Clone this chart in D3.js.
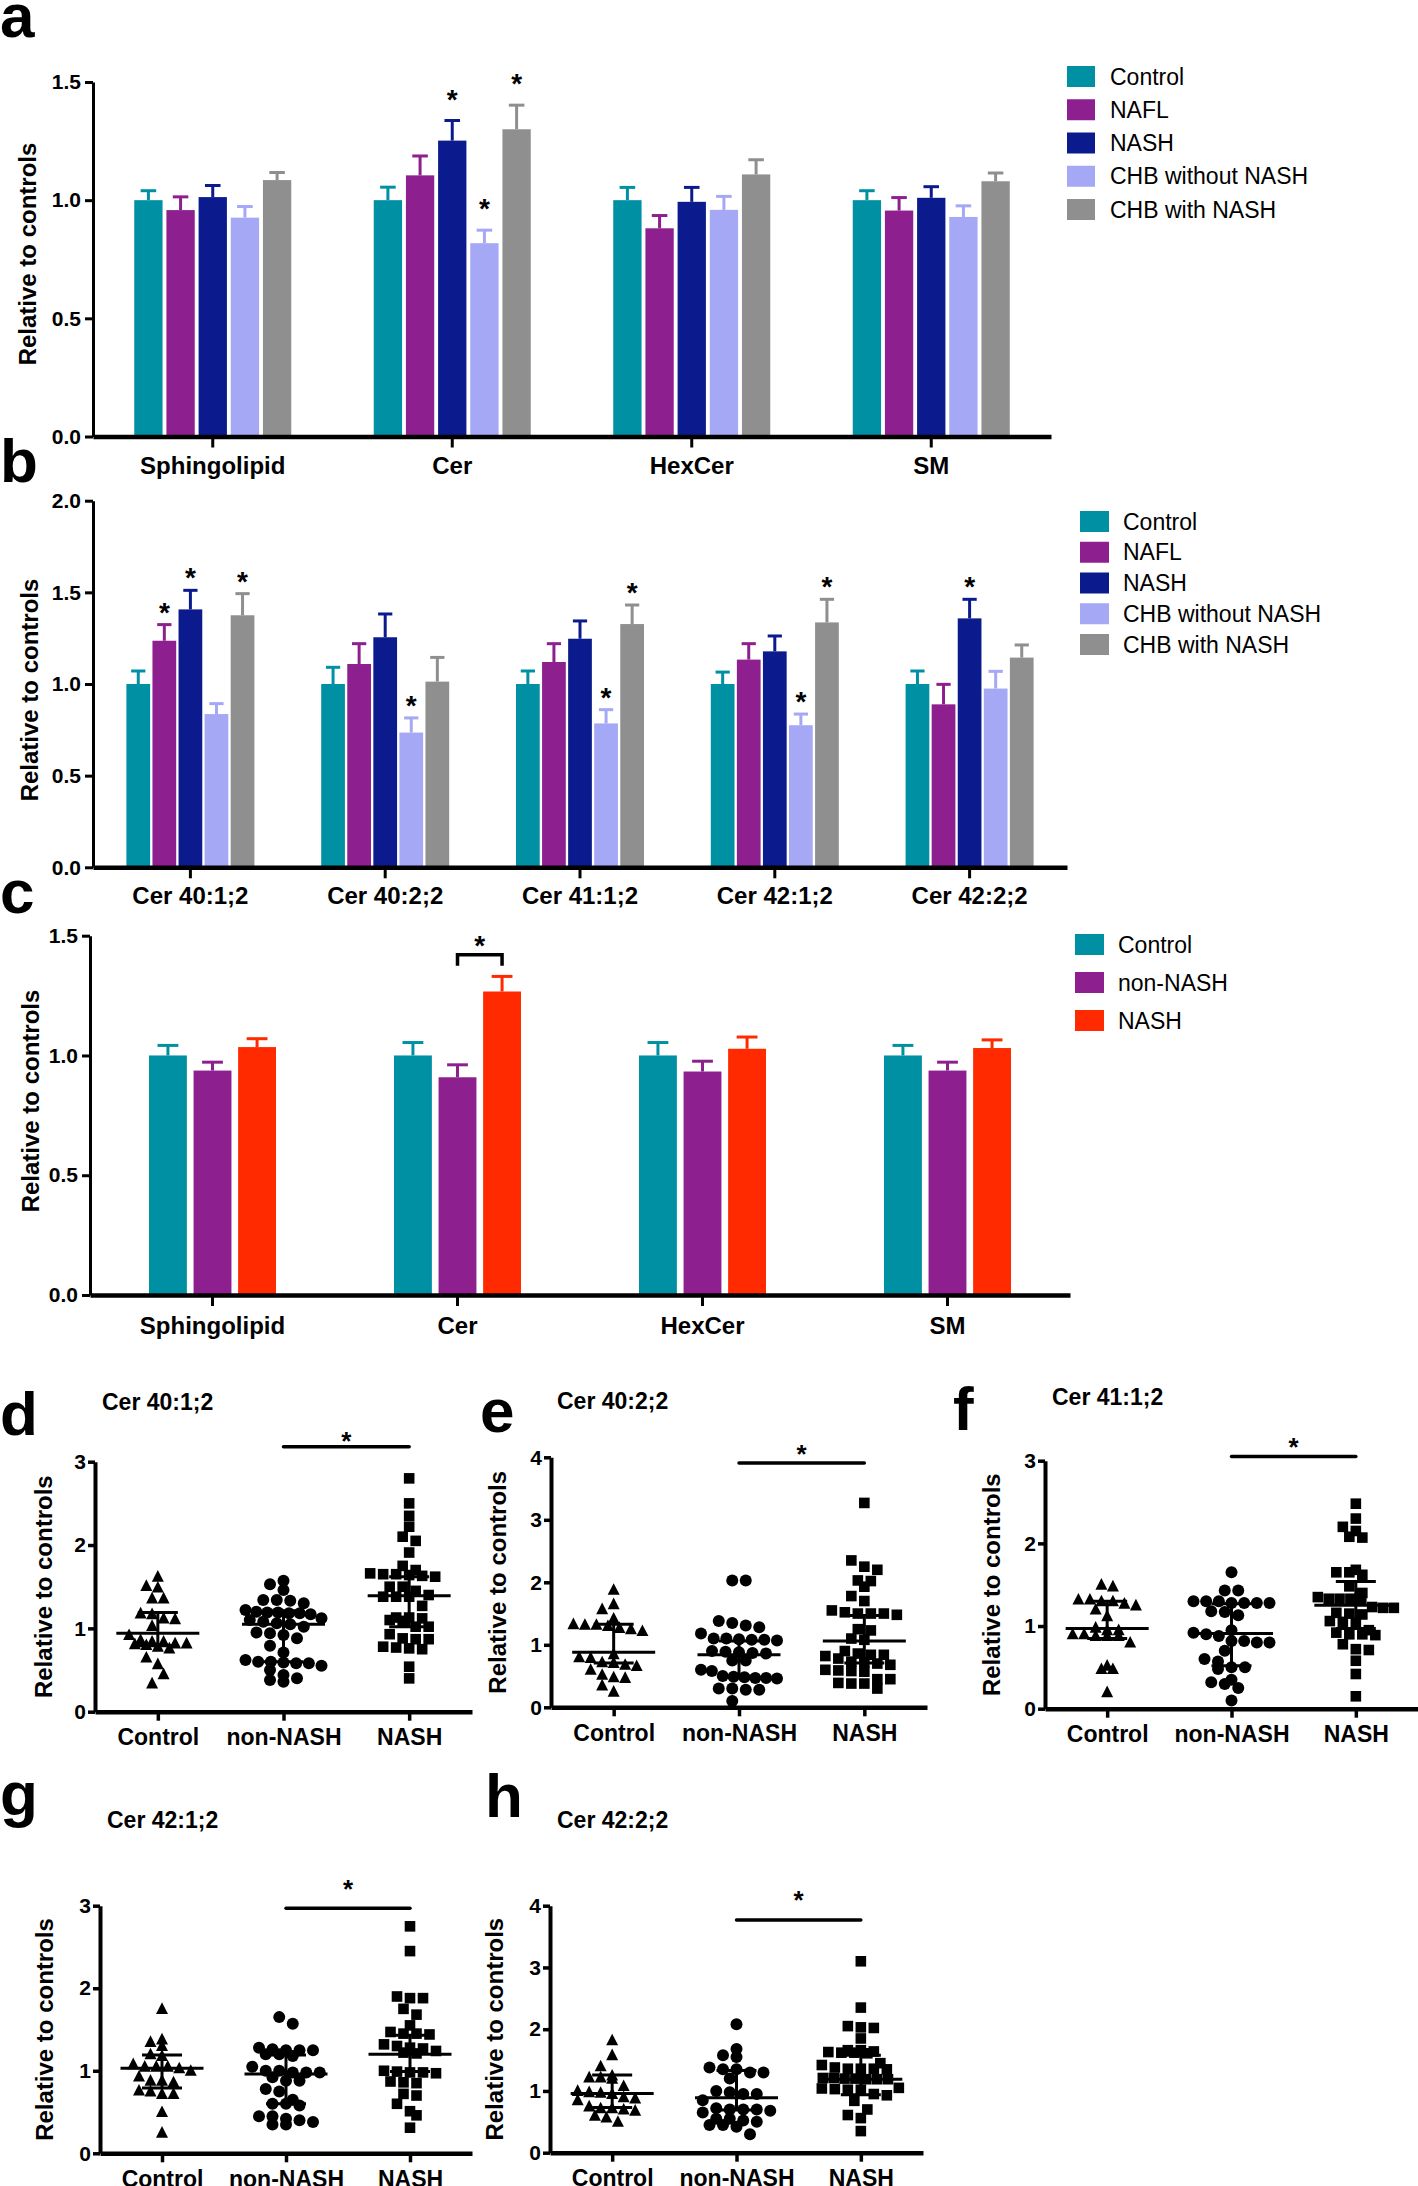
<!DOCTYPE html>
<html><head><meta charset="utf-8">
<script src="https://cdn.jsdelivr.net/npm/d3@7"></script>
<style>
body{margin:0;background:#fff}
svg{display:block}
text{font-family:"Liberation Sans",Arial,Helvetica,sans-serif;fill:#000}
</style>
</head><body>
<svg id="chart" width="1418" height="2186"></svg>
<script>
// ---------------- DATA ----------------
const seriesAB = ["Control","NAFL","NASH","CHB without NASH","CHB with NASH"];
const seriesC = ["Control","non-NASH","NASH"];
const colorsAB = ["#0090A3","#8E1F8E","#0B1A8D","#A4A8F5","#8F8F8F"];
const colorsC = ["#0090A3","#8E1F8E","#FF2A00"];

const catsA = ["Sphingolipid","Cer","HexCer","SM"];
const aControl = [1.000,1.000,1.000,1.000];
const aControlSE = [0.040,0.055,0.054,0.040];
const aNAFL = [0.958,1.105,0.881,0.956];
const aNAFLSE = [0.056,0.082,0.054,0.055];
const aNASH = [1.013,1.252,0.993,1.010];
const aNASHSE = [0.049,0.085,0.061,0.047];
const aCHBwo = [0.926,0.818,0.959,0.929];
const aCHBwoSE = [0.047,0.055,0.057,0.047];
const aCHBw = [1.085,1.300,1.109,1.080];
const aCHBwSE = [0.032,0.102,0.062,0.035];
const aStars = [[1,2],[1,3],[1,4]];
const aTicks = [0,0.5,1.0,1.5];

const catsB = ["Cer 40:1;2","Cer 40:2;2","Cer 41:1;2","Cer 42:1;2","Cer 42:2;2"];
const bControl = [1.000,1.000,1.000,1.000,1.000];
const bControlSE = [0.071,0.091,0.071,0.065,0.071];
const bNAFL = [1.236,1.109,1.120,1.133,0.889];
const bNAFLSE = [0.088,0.111,0.100,0.087,0.109];
const bNASH = [1.407,1.255,1.247,1.178,1.358];
const bNASHSE = [0.104,0.127,0.097,0.084,0.104];
const bCHBwo = [0.836,0.735,0.785,0.775,0.975];
const bCHBwoSE = [0.057,0.080,0.075,0.061,0.094];
const bCHBw = [1.375,1.013,1.327,1.336,1.144];
const bCHBwSE = [0.118,0.132,0.104,0.126,0.069];
const bStars = [[0,1],[0,2],[0,4],[1,3],[2,3],[2,4],[3,3],[3,4],[4,2]];
const bTicks = [0,0.5,1.0,1.5,2.0];

const catsC = ["Sphingolipid","Cer","HexCer","SM"];
const cControl = [1.000,1.000,1.000,1.000];
const cControlSE = [0.042,0.054,0.054,0.042];
const cNonNASH = [0.937,0.909,0.933,0.937];
const cNonNASHSE = [0.035,0.052,0.043,0.035];
const cNASH = [1.035,1.267,1.028,1.031];
const cNASHSE = [0.035,0.063,0.049,0.034];
const cBracket = {cat:1, from:1, to:2, value:1.42};
const cTicks = [0,0.5,1.0,1.5];

const scatterGroups = ["Control","non-NASH","NASH"];

const dTitle = "Cer 40:1;2";
const dControl = [1.62,1.51,1.49,1.36,1.36,1.18,1.17,1.12,1.11,1.03,0.92,0.86,0.84,0.84,0.82,0.82,0.81,0.80,0.78,0.76,0.65,0.57,0.45,0.34];
const dNonNASH = [1.57,1.53,1.46,1.34,1.34,1.33,1.30,1.22,1.20,1.19,1.19,1.18,1.18,1.17,1.12,1.10,1.08,1.06,1.05,1.02,0.95,0.94,0.92,0.88,0.79,0.71,0.62,0.60,0.60,0.59,0.58,0.58,0.55,0.50,0.44,0.40,0.38,0.36];
const dNASH = [2.80,2.50,2.35,2.22,2.10,2.05,1.91,1.75,1.70,1.66,1.65,1.65,1.64,1.63,1.62,1.50,1.50,1.45,1.40,1.38,1.38,1.38,1.27,1.13,1.13,1.12,1.10,1.09,1.02,1.02,0.93,0.88,0.87,0.87,0.78,0.77,0.76,0.75,0.54,0.40];
const dSummary = [[0.94,0.79,1.19],[1.05,0.60,1.21],[1.39,1.02,1.62]];
const dSig = 3.18;

const eTitle = "Cer 40:2;2";
const eControl = [1.88,1.65,1.57,1.42,1.33,1.32,1.32,1.30,1.27,1.25,1.22,0.85,0.80,0.79,0.72,0.71,0.68,0.66,0.60,0.52,0.48,0.47,0.35,0.25];
const eNonNASH = [2.03,2.03,1.38,1.35,1.31,1.28,1.18,1.10,1.09,1.08,1.07,1.08,1.10,0.90,0.88,0.87,0.89,0.86,0.75,0.75,0.60,0.58,0.50,0.47,0.46,0.47,0.49,0.48,0.30,0.28,0.28,0.30,0.10];
const eNASH = [3.27,2.35,2.25,2.20,2.03,2.02,1.93,1.78,1.70,1.55,1.50,1.50,1.48,1.50,1.52,1.25,1.23,1.10,1.08,0.90,0.84,0.84,0.86,0.82,0.78,0.73,0.70,0.72,0.68,0.58,0.59,0.57,0.60,0.45,0.38,0.30,0.38,0.39,0.45];
const eSummary = [[0.88,0.71,1.33],[0.84,0.50,1.06],[1.06,0.71,1.47]];
const eSig = 3.91;

const fTitle = "Cer 41:1;2";
const fControl = [1.50,1.48,1.32,1.32,1.30,1.30,1.27,1.25,1.20,1.12,0.98,0.95,0.95,0.90,0.90,0.88,0.88,0.88,0.80,0.52,0.48,0.48,0.20];
const fNonNASH = [1.65,1.43,1.43,1.30,1.30,1.28,1.28,1.28,1.28,1.30,1.18,1.17,1.13,0.95,0.92,0.90,0.88,0.82,0.82,0.80,0.80,0.70,0.60,0.57,0.50,0.50,0.48,0.35,0.32,0.30,0.25,0.10];
const fNASH = [2.48,2.30,2.20,2.15,2.08,2.07,1.68,1.65,1.65,1.62,1.48,1.40,1.33,1.33,1.32,1.33,1.35,1.22,1.22,1.23,1.16,1.15,1.14,1.05,1.06,1.04,0.95,0.90,0.92,0.90,0.89,0.78,0.72,0.71,0.58,0.42,0.15];
const fSummary = [[0.97,0.85,1.30],[0.91,0.52,1.27],[1.25,0.97,1.54]];
const fSig = 3.05;

const gTitle = "Cer 42:1;2";
const gControl = [1.75,1.38,1.35,1.30,1.20,1.18,1.08,1.05,1.05,1.05,1.03,1.00,0.93,0.88,0.88,0.86,0.76,0.75,0.72,0.72,0.50,0.25];
const gNonNASH = [1.65,1.57,1.28,1.26,1.25,1.25,1.25,1.20,1.20,1.18,1.05,1.00,1.00,0.98,0.98,0.98,0.92,0.88,0.88,0.78,0.75,0.65,0.60,0.60,0.58,0.45,0.45,0.42,0.40,0.38,0.35,0.35];
const gNASH = [2.75,2.45,1.90,1.88,1.88,1.75,1.68,1.55,1.47,1.45,1.44,1.45,1.32,1.30,1.28,1.27,1.24,1.21,1.22,1.00,0.98,0.99,0.98,0.97,0.86,0.85,0.87,0.72,0.70,0.60,0.51,0.46,0.31];
const gSummary = [[1.03,0.79,1.19],[0.96,0.60,1.19],[1.20,0.99,1.43]];
const gSig = 2.97;

const hTitle = "Cer 42:2;2";
const hControl = [1.82,1.58,1.40,1.25,1.22,1.22,1.20,1.08,1.00,0.98,0.97,0.95,0.90,0.88,0.85,0.75,0.72,0.72,0.70,0.68,0.60,0.57,0.50];
const hNonNASH = [2.08,1.68,1.58,1.55,1.38,1.35,1.35,1.30,1.30,1.20,1.00,0.98,0.95,0.95,0.85,0.72,0.70,0.70,0.70,0.68,0.65,0.55,0.55,0.52,0.50,0.45,0.45,0.42,0.30];
const hNASH = [3.10,2.35,2.05,2.03,2.02,1.85,1.66,1.63,1.62,1.61,1.62,1.64,1.66,1.45,1.42,1.38,1.36,1.36,1.35,1.36,1.21,1.21,1.20,1.19,1.19,1.19,1.20,1.05,1.03,1.02,1.02,1.04,0.93,0.95,0.84,0.70,0.61,0.56,0.35];
const hSummary = [[0.96,0.73,1.26],[0.89,0.69,1.33],[1.19,0.94,1.58]];
const hSig = 3.77;

// ---------------- DRAWING ----------------
const svg = d3.select("#chart");
const FONT = '"Liberation Sans",Arial,Helvetica,sans-serif';

function panelLetter(t, x, y){
  svg.append("text").attr("x",x).attr("y",y).attr("font-size",62).attr("font-weight","bold").text(t);
}
function yLabel(x, cy){
  svg.append("text").attr("transform",`translate(${x},${cy}) rotate(-90)`)
    .attr("text-anchor","middle").attr("font-size",24).attr("font-weight","bold").text("Relative to controls");
}

function barPanel(cfg){
  const g = svg.append("g");
  const y = d3.scaleLinear().domain([0,cfg.yMax]).range([cfg.yBottom,cfg.yTop]);
  const x0 = d3.scaleBand().domain(cfg.cats).range([cfg.xLeft,cfg.xRight]).padding(0);
  const x1 = d3.scaleBand().domain(cfg.series).range([0,cfg.groupW]).paddingInner(cfg.padInner).paddingOuter(0);
  const off = (x0.bandwidth()-cfg.groupW)/2;
  const rows = [];
  cfg.cats.forEach((c,ci)=>cfg.series.forEach((s,si)=>{
    rows.push({c,ci,s,si,v:cfg.means[si][ci],e:cfg.ses[si][ci]});
  }));
  const bx = d=>x0(d.c)+off+x1(d.s);
  const bw = x1.bandwidth();
  const capW = bw*cfg.capFrac;
  g.selectAll(".eb").data(rows).join("line")
    .attr("x1",d=>bx(d)+bw/2).attr("x2",d=>bx(d)+bw/2)
    .attr("y1",d=>y(d.v)).attr("y2",d=>y(d.v+d.e))
    .attr("stroke",d=>cfg.colors[d.si]).attr("stroke-width",3);
  g.selectAll(".cap").data(rows).join("line")
    .attr("x1",d=>bx(d)+bw/2-capW/2).attr("x2",d=>bx(d)+bw/2+capW/2)
    .attr("y1",d=>y(d.v+d.e)).attr("y2",d=>y(d.v+d.e))
    .attr("stroke",d=>cfg.colors[d.si]).attr("stroke-width",3);
  g.selectAll(".bar").data(rows).join("rect")
    .attr("x",bx).attr("width",bw)
    .attr("y",d=>y(d.v)).attr("height",d=>y(0)-y(d.v))
    .attr("fill",d=>cfg.colors[d.si]);
  (cfg.stars||[]).forEach(([ci,si])=>{
    const d = rows.find(r=>r.ci===ci&&r.si===si);
    g.append("text").attr("x",bx(d)+bw/2).attr("y",y(d.v+d.e)-cfg.starOff)
      .attr("text-anchor","middle").attr("font-size",28).attr("font-weight","bold").text("*");
  });
  if(cfg.bracket){
    const b = cfg.bracket;
    const c = cfg.cats[b.cat];
    const xa = x0(c)+off+x1(cfg.series[b.from])+bw/2;
    const xb = x0(c)+off+x1(cfg.series[b.to])+bw/2;
    const yb = y(b.value);
    g.append("path").attr("d",`M${xa},${yb+11}V${yb}H${xb}V${yb+11}`)
      .attr("fill","none").attr("stroke","#000").attr("stroke-width",3.5);
    g.append("text").attr("x",(xa+xb)/2).attr("y",yb).attr("text-anchor","middle")
      .attr("font-size",28).attr("font-weight","bold").text("*");
  }
  const ya = g.append("g").attr("transform",`translate(${cfg.xLeft},0)`)
    .call(d3.axisLeft(y).tickValues(cfg.ticks).tickFormat(d3.format(".1f")).tickSize(8).tickPadding(4).tickSizeOuter(0));
  ya.select(".domain").attr("stroke-width",3);
  ya.selectAll(".tick line").attr("stroke-width",3);
  ya.selectAll(".tick text").attr("font-size",21).attr("font-weight","bold").attr("font-family",FONT).attr("fill","#000");
  const xa = g.append("g").attr("transform",`translate(0,${cfg.yBottom})`)
    .call(d3.axisBottom(x0).tickSize(11).tickPadding(cfg.xPad).tickSizeOuter(0));
  xa.select(".domain").attr("stroke-width",4.5);
  xa.selectAll(".tick line").attr("stroke-width",3);
  xa.selectAll(".tick text").attr("font-size",24).attr("font-weight","bold").attr("font-family",FONT).attr("fill","#000");
  const L = cfg.legend;
  cfg.series.forEach((s,i)=>{
    const yy = L.y0 + i*L.step;
    g.append("rect").attr("x",L.x).attr("y",yy).attr("width",L.sw).attr("height",L.sh).attr("fill",cfg.colors[i]);
    g.append("text").attr("x",L.tx).attr("y",yy+L.sh/2+8).attr("font-size",23).text(s);
  });
}

barPanel({cats:catsA, series:seriesAB, colors:colorsAB,
  means:[aControl,aNAFL,aNASH,aCHBwo,aCHBw], ses:[aControlSE,aNAFLSE,aNASHSE,aCHBwoSE,aCHBwSE],
  stars:aStars, ticks:aTicks, yMax:1.5, yBottom:436.5, yTop:82, xLeft:93, xRight:1051,
  groupW:157, padInner:0.12, capFrac:0.55, starOff:12, xPad:9,
  legend:{x:1067,y0:66,step:33.25,sw:28,sh:21,tx:1110}});

barPanel({cats:catsB, series:seriesAB, colors:colorsAB,
  means:[bControl,bNAFL,bNASH,bCHBwo,bCHBw], ses:[bControlSE,bNAFLSE,bNASHSE,bCHBwoSE,bCHBwSE],
  stars:bStars, ticks:bTicks, yMax:2.0, yBottom:867.3, yTop:500.7, xLeft:93, xRight:1067,
  groupW:128, padInner:0.09, capFrac:0.6, starOff:3, xPad:9,
  legend:{x:1080,y0:511,step:30.75,sw:29,sh:21,tx:1123}});

barPanel({cats:catsC, series:seriesC, colors:colorsC,
  means:[cControl,cNonNASH,cNASH], ses:[cControlSE,cNonNASHSE,cNASHSE],
  bracket:cBracket, ticks:cTicks, yMax:1.5, yBottom:1295, yTop:935.7, xLeft:90, xRight:1070,
  groupW:127, padInner:0.15, capFrac:0.55, starOff:3, xPad:11,
  legend:{x:1075,y0:934,step:38,sw:29,sh:21,tx:1118}});

panelLetter("a",0,37);
panelLetter("b",0,482);
panelLetter("c",0,913);
yLabel(36,254);
yLabel(38,690);
yLabel(38.5,1101);

// row-binned column-scatter layout with a maximum row width
function rowLayout(vals, yScale, rowH, sp, size, maxW){
  const pts = vals.map((v,i)=>({v,i,py:yScale(v),dx:0}));
  const bins = d3.groups(pts, p=>Math.floor(p.py/rowH)).sort((a,b)=>a[0]-b[0]);
  const done = [];
  bins.forEach(([,bp])=>{
    bp.sort((a,b)=>b.v-a.v);
    const n = bp.length;
    const step = n>1 ? Math.min(sp, maxW/(n-1)) : sp;
    let best=null, bestCost=Infinity;
    const shifts = (n-1)*step + step/2 <= maxW ? [0, step/2, -step/2] : [0];
    shifts.forEach(shift=>{
      const offs = bp.map((p,j)=>(j-(n-1)/2)*step + shift);
      let cost=0;
      bp.forEach((p,j)=>done.forEach(q=>{
        const dx=Math.abs(offs[j]-q.dx), dy=Math.abs(p.py-q.py);
        if(dx<size && dy<size) cost += (size-dx)*(size-dy);
      }));
      cost += Math.abs(shift)*0.5;
      if(cost<bestCost){bestCost=cost;best=offs;}
    });
    bp.forEach((p,j)=>{p.dx=best[j]; done.push(p);});
  });
  return pts;
}

const shapes = {
  tri:(s)=>`M0,${-s*0.55}L${s/2},${s*0.42}L${-s/2},${s*0.42}Z`,
  circ:(s)=>d3.symbol(d3.symbolCircle, Math.PI*s*s/4)(),
  sq:(s)=>`M${-s/2},${-s/2}h${s}v${s}h${-s}Z`
};

function scatterPanel(cfg){
  const g = svg.append("g");
  const y = d3.scaleLinear().domain([0,cfg.yMax]).range([cfg.yBottom,cfg.yTop]);
  const x = d3.scalePoint().domain(scatterGroups).range([cfg.xLeft,cfg.xRight]).padding(0.5);
  const kinds = [["tri",12,11.5],["circ",12,13.5],["sq",10.6,13]];
  cfg.groups.forEach((vals,gi)=>{
    const [kd,s,sp] = kinds[gi];
    const pts = rowLayout(vals,y,12,sp,s,76);
    g.selectAll(null).data(pts).join("path")
      .attr("d",shapes[kd](s))
      .attr("transform",d=>`translate(${x(scatterGroups[gi])+d.dx},${y(d.v)})`)
      .attr("fill","#000");
    const [m,lo,hi] = cfg.summary[gi];
    const cx = x(scatterGroups[gi]);
    g.append("line").attr("x1",cx-41.5).attr("x2",cx+41.5).attr("y1",y(m)).attr("y2",y(m)).attr("stroke","#000").attr("stroke-width",3);
    g.append("line").attr("x1",cx).attr("x2",cx).attr("y1",y(lo)).attr("y2",y(hi)).attr("stroke","#000").attr("stroke-width",3);
    [lo,hi].forEach(v=>g.append("line").attr("x1",cx-20).attr("x2",cx+20).attr("y1",y(v)).attr("y2",y(v)).attr("stroke","#000").attr("stroke-width",3));
  });
  const sy = y(cfg.sig);
  g.append("line").attr("x1",x("non-NASH")).attr("x2",x("NASH")).attr("y1",sy).attr("y2",sy)
    .attr("stroke","#000").attr("stroke-width",3.5).attr("stroke-linecap","round");
  g.append("text").attr("x",(x("non-NASH")+x("NASH"))/2).attr("y",sy-cfg.starOff)
    .attr("text-anchor","middle").attr("font-size",26).attr("font-weight","bold").text("*");
  const ya = g.append("g").attr("transform",`translate(${cfg.xLeft},0)`)
    .call(d3.axisLeft(y).ticks(cfg.yMax).tickFormat(d3.format("d")).tickSize(7).tickPadding(2).tickSizeOuter(0));
  ya.select(".domain").attr("stroke-width",4);
  ya.selectAll(".tick line").attr("stroke-width",3.5);
  ya.selectAll(".tick text").attr("font-size",21).attr("font-weight","bold").attr("font-family",FONT).attr("fill","#000");
  const xa = g.append("g").attr("transform",`translate(0,${cfg.yBottom})`)
    .call(d3.axisBottom(x).tickSize(9).tickPadding(8).tickSizeOuter(0));
  xa.select(".domain").attr("stroke-width",4.5);
  xa.selectAll(".tick line").attr("stroke-width",3.5);
  xa.selectAll(".tick text").attr("font-size",23).attr("font-weight","bold").attr("font-family",FONT).attr("fill","#000");
  svg.append("text").attr("x",cfg.titleX).attr("y",cfg.titleY).attr("font-size",23).attr("font-weight","bold").text(cfg.title);
  panelLetter(cfg.letter,cfg.letterX,cfg.letterY);
  yLabel(cfg.ylabX,(cfg.yBottom+cfg.yTop)/2);
}

scatterPanel({letter:"d",letterX:0,letterY:1435,title:dTitle,titleX:102,titleY:1410,
  groups:[dControl,dNonNASH,dNASH],summary:dSummary,sig:dSig,starOff:-3,
  yMax:3,yBottom:1711.7,yTop:1461.7,xLeft:95,xRight:472,ylabX:52});
scatterPanel({letter:"e",letterX:480,letterY:1432,title:eTitle,titleX:557,titleY:1409,
  groups:[eControl,eNonNASH,eNASH],summary:eSummary,sig:eSig,starOff:0,
  yMax:4,yBottom:1707.3,yTop:1457.3,xLeft:551,xRight:927,ylabX:506});
scatterPanel({letter:"f",letterX:953,letterY:1430,title:fTitle,titleX:1052,titleY:1405,
  groups:[fControl,fNonNASH,fNASH],summary:fSummary,sig:fSig,starOff:1,
  yMax:3,yBottom:1708.7,yTop:1460.7,xLeft:1045,xRight:1418,ylabX:1000});
scatterPanel({letter:"g",letterX:0,letterY:1815,title:gTitle,titleX:107,titleY:1828,
  groups:[gControl,gNonNASH,gNASH],summary:gSummary,sig:gSig,starOff:10,
  yMax:3,yBottom:2153.3,yTop:1905.7,xLeft:100,xRight:472,ylabX:53});
scatterPanel({letter:"h",letterX:485,letterY:1817,title:hTitle,titleX:557,titleY:1828,
  groups:[hControl,hNonNASH,hNASH],summary:hSummary,sig:hSig,starOff:11,
  yMax:4,yBottom:2152.7,yTop:1905.7,xLeft:550,xRight:923,ylabX:503});
</script>
</body></html>
